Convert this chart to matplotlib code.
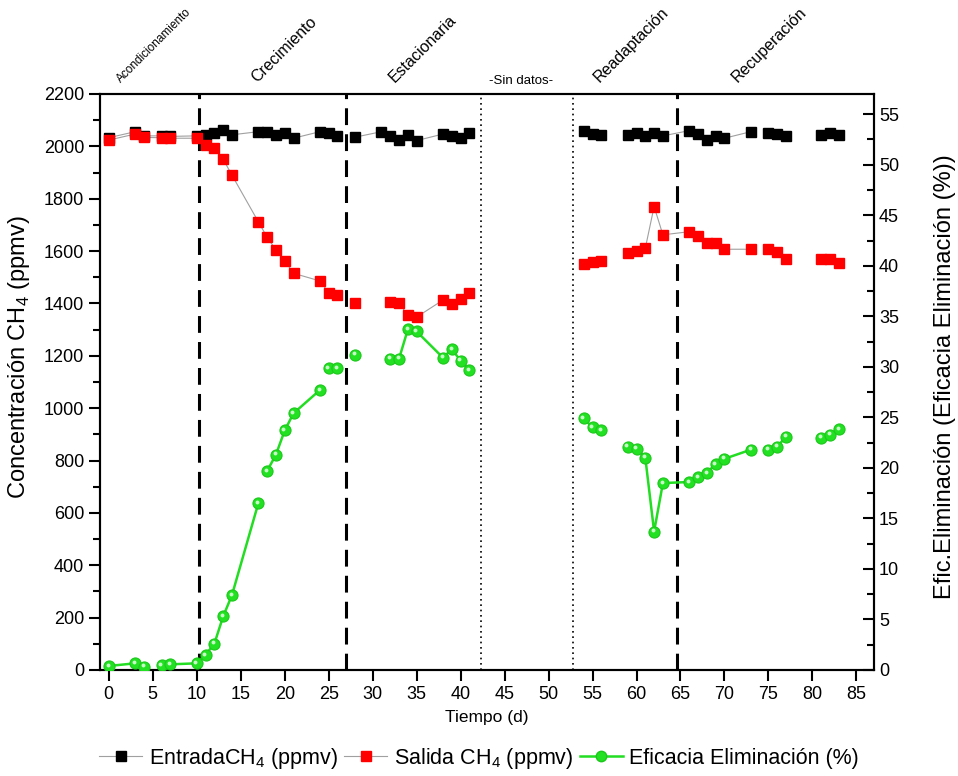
import numpy as np
import matplotlib
matplotlib.use("Agg")
import matplotlib.pyplot as plt
from matplotlib.lines import Line2D
from matplotlib import transforms

plt.rcParams['font.family'] = ['Liberation Sans', 'DejaVu Sans']
plt.rcParams['mathtext.fontset'] = 'custom'
plt.rcParams['mathtext.rm'] = 'Liberation Sans'

# inlet CH4 (ppmv)
entrada_dias = [0, 3, 4, 6, 7, 10, 11, 12, 13, 14, 17, 18, 19, 20, 21, 24, 25, 26,
                28, 31, 32, 33, 34, 35, 38, 39, 40, 41,
                54, 55, 56, 59, 60, 61, 62, 63, 66, 67, 68, 69, 70, 73, 75, 76, 77, 81, 82, 83]
entrada = [2033, 2056, 2040, 2040, 2038, 2040, 2043, 2052, 2063, 2044, 2056, 2056, 2044, 2050, 2031,
           2056, 2050, 2040, 2035, 2056, 2038, 2024, 2044, 2022, 2047, 2040, 2031, 2050,
           2060, 2047, 2044, 2044, 2050, 2040, 2050, 2040, 2060, 2047, 2024, 2040, 2031, 2056,
           2050, 2047, 2040, 2044, 2050, 2044]
entrada_cortes = [26, 41, 56, 73, 77]

# outlet CH4 (ppmv)
salida_dias = [0, 3, 4, 6, 7, 10, 11, 12, 13, 14, 17, 18, 19, 20, 21, 24, 25, 26,
               28, 32, 33, 34, 35, 38, 39, 40, 41,
               54, 55, 56, 59, 60, 61, 62, 63, 66, 67, 68, 69, 70, 73, 75, 76, 77, 81, 82, 83]
salida = [2024, 2047, 2034, 2033, 2031, 2031, 2005, 1992, 1951, 1890, 1712, 1653, 1604, 1563, 1515,
          1486, 1441, 1432, 1401, 1407, 1401, 1355, 1348, 1413, 1399, 1418, 1441,
          1551, 1560, 1563, 1594, 1602, 1611, 1770, 1662, 1674, 1658, 1630, 1630, 1607, 1607,
          1607, 1598, 1569, 1569, 1569, 1553]
salida_cortes = [26, 28, 41, 56, 73, 77]

# removal efficiency (%)
eficacia_dias = salida_dias
eficacia = [0.4, 0.66, 0.33, 0.46, 0.56, 0.66, 1.5, 2.6, 5.3, 7.4, 16.5, 19.7, 21.3, 23.7, 25.4,
            27.7, 29.9, 29.9, 31.2, 30.8, 30.8, 33.7, 33.5, 30.9, 31.75, 30.6, 29.7,
            24.9, 24.0, 23.7, 22.1, 21.9, 21.0, 13.7, 18.5, 18.6, 19.1, 19.5, 20.4, 20.9, 21.8,
            21.8, 22.1, 23.1, 23.0, 23.3, 23.8]
eficacia_cortes = [4, 17, 24, 26, 28, 41, 56, 73, 77]

fases = ['Acondicionamiento', 'Crecimiento', 'Estacionaria', 'Readaptación', 'Recuperación']
fases_x = [1.6, 17.1, 32.8, 56.0, 71.7]
fases_size = [8.5, 11.5, 11.5, 11.5, 11.5]
limites_fase = [10.2, 27.0, 64.6]
limites_sin_datos = [42.3, 52.8]


def tramos(dias, valores, cortes):
    """split a series into runs that get joined by a line"""
    dias = np.asarray(dias, dtype=float)
    valores = np.asarray(valores, dtype=float)
    idx = [int(np.searchsorted(dias, c)) + 1 for c in cortes]
    return zip(np.split(dias, idx), np.split(valores, idx))


fig = plt.figure(figsize=(9.58, 7.76), dpi=100)
ax = fig.add_axes([0.1044, 0.1366, 0.8079, 0.7423])
ax2 = ax.twinx()

for x, y in tramos(entrada_dias, entrada, entrada_cortes):
    ax.plot(x, y, color='#a0a0a0', lw=0.8, zorder=2)
for x, y in tramos(salida_dias, salida, salida_cortes):
    ax.plot(x, y, color='#a0a0a0', lw=0.8, zorder=2)
ax.plot(entrada_dias, entrada, ls='none', marker='s', ms=7.2, color='black', zorder=3)
ax.plot(salida_dias, salida, ls='none', marker='s', ms=7.2, color='#ff0000', zorder=4)

for x, y in tramos(eficacia_dias, eficacia, eficacia_cortes):
    ax2.plot(x, y, color='#22dd22', lw=1.8, zorder=2)
ax2.plot(eficacia_dias, eficacia, ls='none', marker='o', ms=8, mfc='#22e022',
         mec='#1cc81c', mew=0.8, zorder=3)
brillo = transforms.offset_copy(ax2.transData, fig=fig, x=-1.3, y=1.3, units='dots')
ax2.plot(eficacia_dias, eficacia, ls='none', marker='o', ms=2.8, mfc='#c8ffc8',
         mec='none', transform=brillo, zorder=4)

for xv in limites_fase:
    ax.axvline(xv, color='black', lw=2.2, ls=(0, (5.5, 3)), zorder=1)
for xv in limites_sin_datos:
    ax.axvline(xv, color='black', lw=1.2, ls=(0, (1, 2.2)), zorder=1)

ax.set_xlim(-1, 87)
ax.set_ylim(0, 2200)
ax2.set_ylim(0, 57)
ax.set_xticks(np.arange(0, 90, 5))
ax.set_yticks(np.arange(0, 2201, 200))
ax.set_yticks(np.arange(100, 2200, 200), minor=True)
ax2.set_yticks(np.arange(0, 56, 5))
ax2.set_yticks(np.arange(2.5, 57, 5), minor=True)

for a in (ax, ax2):
    for s in a.spines.values():
        s.set_linewidth(1.5)
ax.tick_params(axis='both', which='major', direction='out', length=8, width=1.5, labelsize=13)
ax.tick_params(axis='y', which='minor', direction='out', length=5, width=1.5)
ax2.tick_params(axis='y', which='major', direction='in', length=8, width=1.5, labelsize=13)
ax2.tick_params(axis='y', which='minor', direction='in', length=5, width=1.5)

ax.set_xlabel('Tiempo (d)', fontsize=12.5, labelpad=5)
ax.set_ylabel('Concentración CH$_\\mathregular{4}$ (ppmv)', fontsize=17)
ax2.set_ylabel('Efic.Eliminación (Eficacia Eliminación (%))', fontsize=17)
ax.yaxis.set_label_coords(-0.088, 0.543)
ax2.yaxis.set_label_coords(1.078, 0.509)

for nombre, xv, fs in zip(fases, fases_x, fases_size):
    ax.text(xv, 1.016, nombre, transform=ax.get_xaxis_transform(), rotation=45,
            rotation_mode='anchor', ha='left', va='bottom', fontsize=fs)
ax.text(46.9, 1.012, '-Sin datos-', transform=ax.get_xaxis_transform(),
        ha='center', va='bottom', fontsize=9.5)

handles = [
    Line2D([], [], color='#a0a0a0', lw=0.8, marker='s', ms=7.2, mfc='black', mec='black'),
    Line2D([], [], color='#a0a0a0', lw=0.8, marker='s', ms=7.2, mfc='#ff0000', mec='#ff0000'),
    Line2D([], [], color='#22dd22', lw=1.8, marker='o', ms=7.5, mfc='#22e022', mec='#1cc81c'),
]
labels = ['EntradaCH$_\\mathregular{4}$ (ppmv)', 'Salida CH$_\\mathregular{4}$ (ppmv)',
          'Eficacia Eliminación (%)']
fig.legend(handles, labels, loc='center', bbox_to_anchor=(0.5, 0.023), ncol=3,
           frameon=False, fontsize=15.5, handlelength=2.0, handletextpad=0.3,
           columnspacing=0.3)

fig.savefig('out.png', dpi=100)
